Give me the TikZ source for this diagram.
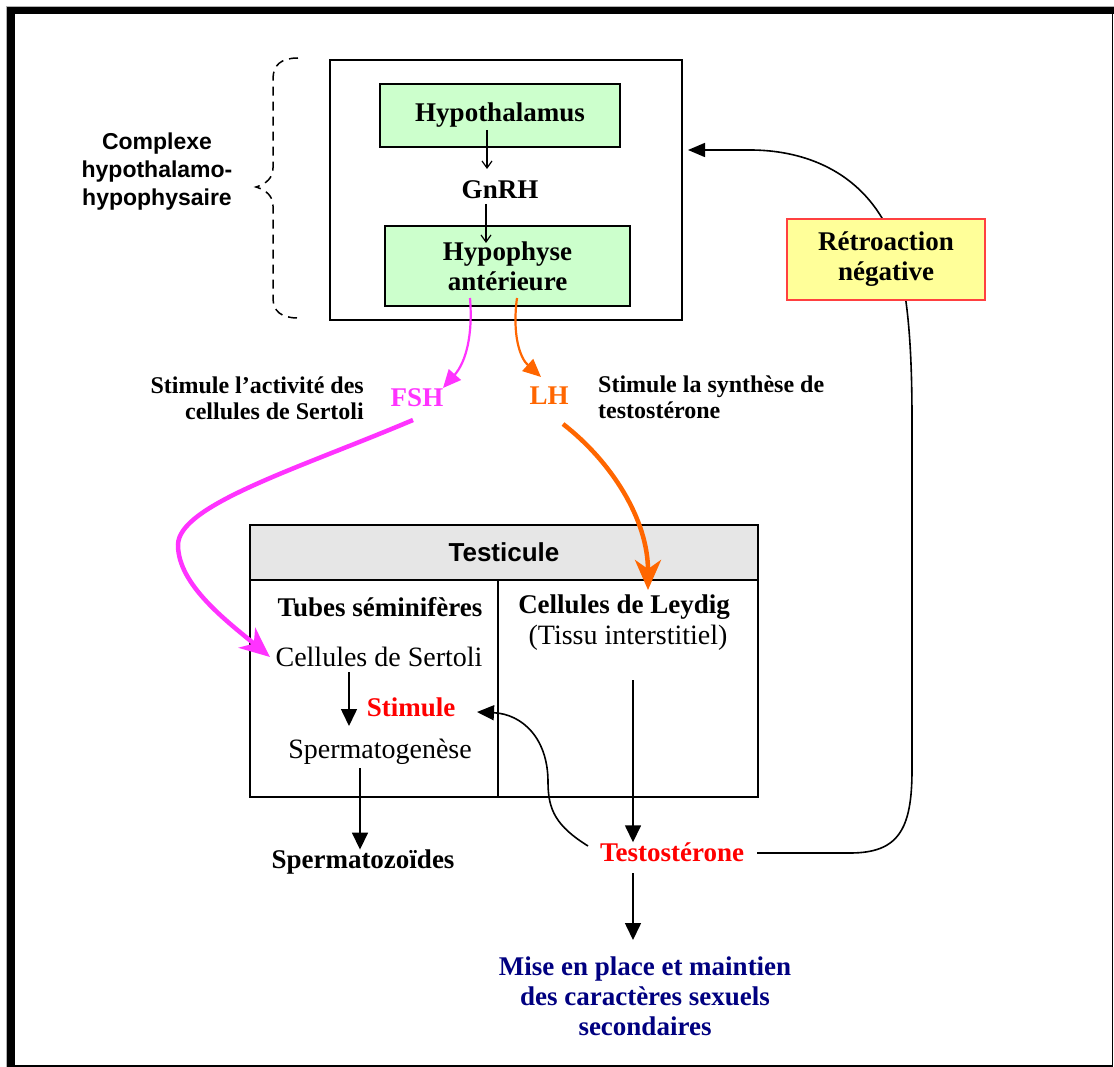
\documentclass[tikz,border=0pt]{standalone}
\usepackage{fontspec}
\setmainfont{Liberation Serif}
\newfontfamily\ser{Liberation Serif}
\newfontfamily\arial{Liberation Sans}
\usetikzlibrary{arrows.meta,backgrounds}
\definecolor{lgreen}{HTML}{CCFFCC}
\definecolor{lyellow}{HTML}{FFFF99}
\definecolor{bred}{HTML}{FF4040}
\definecolor{pinkm}{HTML}{FF33FF}
\definecolor{orng}{HTML}{FF6600}
\definecolor{tred}{HTML}{FF0000}
\definecolor{navy}{HTML}{000080}
\definecolor{hgray}{HTML}{E6E6E6}
\tikzset{
  bs/.style={font=\ser\bfseries\fontsize{27}{30}\selectfont, align=center, inner sep=0pt},
  rs/.style={font=\ser\fontsize{28}{31}\selectfont, align=center, inner sep=0pt},
  lab/.style={font=\ser\bfseries\fontsize{24}{26}\selectfont, inner sep=0pt},
  sansb/.style={font=\arial\bfseries\fontsize{23}{28}\selectfont, align=center, inner sep=0pt},
  gbox/.style={draw=black, fill=lgreen, line width=1.3pt, inner sep=0pt},
  thin/.style={line width=1.2pt, -{Straight Barb[length=7pt,width=10pt]}},
  blk/.style={line width=1.6pt, -{Triangle[length=17pt,width=16pt]}},
}
\begin{document}
\begin{tikzpicture}[x=1pt,y=-1pt]
\useasboundingbox (0,0) rectangle (1114,1067);
% outer frame
\fill[gray!60] (6,6) rectangle (1114,7.5);
\fill[gray!60] (6,6) rectangle (7.5,1067);
\fill[black] (7,7) rectangle (1114,14.5);
\fill[black] (7,7) rectangle (14.5,1067);
\draw[line width=1.5pt] (1112.5,14) -- (1112.5,1066);
\draw[line width=1.5pt] (14,1065.8) -- (1113,1065.8);

% brace
\draw[line width=1.5pt, dash pattern=on 9pt off 6pt]
  (298,58) .. controls (281,58) and (273,65) .. (273,79) -- (273,168)
  .. controls (273,178) and (266,184) .. (256,187)
  .. controls (266,190) and (273,196) .. (273,206) -- (273,298)
  .. controls (273,311) and (281,318) .. (298,318);
\node[sansb] (cplx) at (157,172) {Complexe\\hypothalamo-\\hypophysaire};

% top box
\node[draw, line width=1.3pt, minimum width=352pt, minimum height=260pt, inner sep=0pt] (big) at (506,190) {};
\node[gbox, bs, minimum width=240pt, minimum height=63pt] (hyp) at (500,115.5) {Hypothalamus};
\node[bs] (gnrh) at (500,190) {GnRH};
\node[gbox, bs, minimum width=245pt, minimum height=80pt] (ant) at (507.5,266) {Hypophyse\\ant\'erieure};
\coordinate (h1) at (487,130);
\coordinate (h2) at (487,169);
\coordinate (h3) at (486,204);
\coordinate (h4) at (486,243);
\draw[thin] (h1) -- (h2);
\draw[thin] (h3) -- (h4);

% hormones
\node[bs, text=pinkm] (fsh) at (417,398) {FSH};
\node[bs, text=orng] (lh) at (549,396) {LH};
\node[lab, anchor=east, align=right] (l1) at (364,398) {Stimule l’activit\'e des\\cellules de Sertoli};
\node[lab, anchor=west, align=left] (l2) at (598,397) {Stimule la synth\`ese de\\testost\'erone};
\coordinate (p0) at (470,298);
\coordinate (p1) at (443,388);
\coordinate (o0) at (517,298);
\coordinate (o1) at (541,377);
\draw[pinkm, line width=2.2pt, -{Triangle[length=18pt,width=16pt]}]
  (p0) .. controls (473,335) and (466,362) .. (p1);
\draw[orng, line width=2.2pt, -{Triangle[length=18pt,width=16pt]}]
  (o0) .. controls (512,335) and (520,358) .. (o1);

% testicule table
\node[draw, line width=1.8pt, fill=hgray, minimum width=508pt, minimum height=55pt, inner sep=0pt,
      font=\arial\bfseries\fontsize{26}{30}\selectfont] (head) at (504,552.5) {Testicule};
\node[draw, line width=1.8pt, minimum width=508pt, minimum height=217pt, inner sep=0pt] (body) at (504,688.5) {};
\draw[line width=1.8pt] (498,580) -- (498,797);
\node[bs] (tubes) at (380,607) {Tubes s\'eminif\`eres};
\node[bs] (leydig) at (624,607) {Cellules de Leydig};
\node[rs] (tissu) at (628,638) {(Tissu interstitiel)};
\node[rs] (sertoli) at (379,657) {Cellules de Sertoli};
\node[bs, text=tred] (stim) at (411,707) {Stimule};
\node[rs] (sperm) at (380,752) {Spermatogen\`ese};
\node[bs] (zoides) at (363,862) {Spermatozo\"ides};
\node[bs, text=tred] (testo) at (672,852) {Testost\'erone};
\node[bs, text=navy] (mise) at (645,996) {Mise en place et maintien\\des caract\`eres sexuels\\secondaires};

% thick hormone arrows
\coordinate (f0) at (413,420);
\coordinate (f1) at (270,657);
\draw[pinkm, line width=4.5pt, -{Stealth[length=30pt,width=26pt,inset=9pt]}]
  (f0) .. controls (300,468) and (178,505) .. (178,545)
  .. controls (178,585) and (228,622) .. (f1);
\coordinate (g0) at (563,424);
\coordinate (g1) at (648,590);
\draw[orng, line width=4.5pt, -{Stealth[length=30pt,width=26pt,inset=9pt]}]
  (g0) .. controls (612,462) and (648,520) .. (g1);

% black arrows
\coordinate (a0) at (349,672);
\coordinate (a1) at (349,726);
\draw[blk] (a0) -- (a1);
\coordinate (b0) at (360,768);
\draw[blk] (b0) -- (zoides.north -| b0);
\coordinate (t0) at (633,680);
\draw[blk] (t0) -- (testo.north -| t0);
\coordinate (t1) at (633,873);
\coordinate (t2) at (633,940);
\draw[blk] (t1) -- (t2);
\coordinate (s0) at (588,846);
\coordinate (sR) at (477,712);
\draw[line width=1.6pt, -{Triangle[length=17pt,width=15pt]}]
  (s0) .. controls (556,826) and (548,810) .. (548,782)
  .. controls (548,738) and (522,714) .. (sR);

% feedback
\coordinate (fbend) at (688,150);
\coordinate (fbst) at (757,853);
\begin{scope}[on background layer]
\draw[line width=1.6pt, -{Triangle[length=17pt,width=14pt]}]
  (fbst) -- (850,853) .. controls (898,853) and (912,830) .. (912,770)
  -- (912,420) .. controls (912,330) and (906,262) .. (882,218)
  .. controls (852,168) and (800,150) .. (750,150) -- (fbend);
\end{scope}
\node[draw=bred, fill=lyellow, line width=1.6pt, bs, minimum width=198pt, minimum height=81pt] (retro) at (886,259.5) {R\'etroaction\\n\'egative};
\end{tikzpicture}
\end{document}
